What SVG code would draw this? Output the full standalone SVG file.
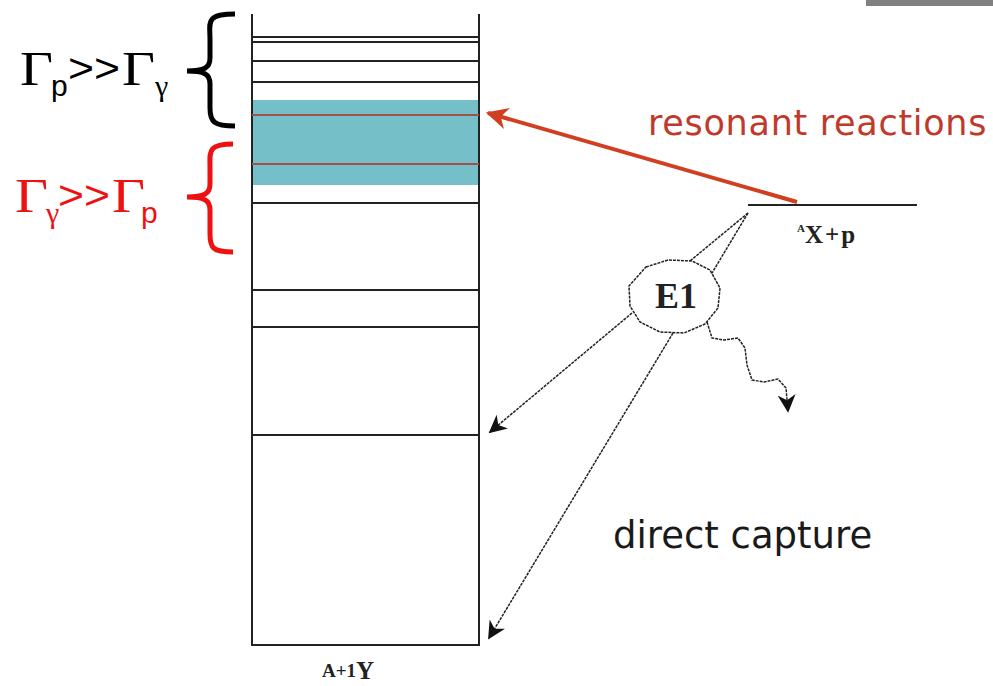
<svg xmlns="http://www.w3.org/2000/svg" width="993" height="686" viewBox="0 0 993 686">
  <style>
    .lvl { stroke: #222; stroke-width: 2; fill: none; }
    .res { stroke: #a0524a; stroke-width: 2; }
    .ink { stroke: #222; stroke-width: 1.5; fill: none; stroke-dasharray: 3 1; }
    .sans { font-family: "Liberation Sans", Arial, sans-serif; }
    .gr { font-family: "Liberation Serif", "Times New Roman", serif; }
    .wide { font-family: "DejaVu Sans", Verdana, sans-serif; }
    .serif { font-family: "Liberation Serif", "Times New Roman", serif; font-weight: bold; fill: #222; }
  </style>
  <defs>
    <marker id="ah" viewBox="0 0 10 10" refX="9" refY="5" markerWidth="18" markerHeight="18" markerUnits="userSpaceOnUse" orient="auto">
      <path d="M0,0 L10,5 L0,10 L3,5 Z" fill="#111"/>
    </marker>
    <marker id="ahr" viewBox="0 0 10 10" refX="9" refY="5" markerWidth="22" markerHeight="22" markerUnits="userSpaceOnUse" orient="auto">
      <path d="M0,0 L10,5 L0,10 L3,5 Z" fill="#d04020"/>
    </marker>
  </defs>

  <rect x="866" y="0" width="127" height="6" fill="#808080"/>

  <!-- level scheme of the compound nucleus -->
  <g id="levels">
    <rect x="252" y="100" width="227" height="85" fill="#75bfc8"/>
    <line class="lvl" x1="252" y1="14" x2="252" y2="646"/>
    <line class="lvl" x1="479" y1="14" x2="479" y2="646"/>
    <line class="lvl" x1="252" y1="645" x2="479" y2="645"/>
    <line class="lvl" x1="252" y1="37" x2="479" y2="37"/>
    <line class="lvl" x1="252" y1="42" x2="479" y2="42"/>
    <line class="lvl" x1="252" y1="61" x2="479" y2="61"/>
    <line class="lvl" x1="252" y1="82" x2="479" y2="82"/>
    <line class="res" x1="252" y1="115" x2="479" y2="115"/>
    <line class="res" x1="252" y1="164" x2="479" y2="164"/>
    <line class="lvl" x1="252" y1="203" x2="479" y2="203"/>
    <line class="lvl" x1="252" y1="290" x2="479" y2="290"/>
    <line class="lvl" x1="252" y1="327" x2="479" y2="327"/>
    <line class="lvl" x1="252" y1="435" x2="479" y2="435"/>
    <text class="serif" x="322" y="677" font-size="19">A+1<tspan font-size="25" dy="2">Y</tspan></text>
  </g>

  <!-- width regimes -->
  <g id="proton-dominated" fill="#000">
    <path d="M235,14 C205,14 210,22 210,40 L210,58 C210,68 204,71 187,71 C204,71 210,74 210,84 L210,108 C210,122 214,126 235,126" fill="none" stroke="#000" stroke-width="5"/>
    <text class="gr" x="20" y="85" font-size="48" textLength="33" lengthAdjust="spacingAndGlyphs">Γ</text>
    <text class="sans" x="51" y="96" font-size="30">p</text>
    <text class="sans" x="68" y="82" font-size="40" textLength="52" lengthAdjust="spacingAndGlyphs">&gt;&gt;</text>
    <text class="gr" x="122" y="85" font-size="48" textLength="33" lengthAdjust="spacingAndGlyphs">Γ</text>
    <text class="gr" x="155" y="96" font-size="30">γ</text>
  </g>
  <g id="gamma-dominated" fill="#ee1111">
    <path d="M233,144 C207,144 210,152 210,168 L210,184 C210,194 204,197 187,197 C204,197 210,200 210,210 L210,234 C210,248 213,252 233,252" fill="none" stroke="#ee1111" stroke-width="5"/>
    <text class="gr" x="15" y="212" font-size="48" textLength="33" lengthAdjust="spacingAndGlyphs">Γ</text>
    <text class="gr" x="46" y="223" font-size="30">γ</text>
    <text class="sans" x="58" y="209" font-size="40" textLength="52" lengthAdjust="spacingAndGlyphs">&gt;&gt;</text>
    <text class="gr" x="112" y="212" font-size="48" textLength="33" lengthAdjust="spacingAndGlyphs">Γ</text>
    <text class="sans" x="141" y="223" font-size="30">p</text>
  </g>

  <!-- entrance channel -->
  <g id="entrance">
    <line class="lvl" x1="748" y1="205" x2="917" y2="205"/>
    <text class="serif" x="797" y="243" font-size="25"><tspan font-size="11" dy="-11">A</tspan><tspan dy="11" letter-spacing="2">X+p</tspan></text>
  </g>

  <g id="e1">
    <path d="M646,267 L668,260 L692,261 L710,270 L720,288 L718,308 L705,324 L684,333 L660,332 L640,322 L630,306 L629,286 Z" fill="#fff" stroke="#222" stroke-width="1.5" stroke-dasharray="3 1"/>
    <text class="serif" x="676" y="308" font-size="36" text-anchor="middle">E1</text>
  </g>

  <text class="wide" x="648" y="135" font-size="35" letter-spacing="0.7" fill="#c0392b">resonant reactions</text>
  <text class="wide" x="613" y="548" font-size="37" fill="#1a1a1a">direct capture</text>

  <!-- transitions -->
  <g id="connectors">
    <line x1="797" y1="202" x2="488" y2="113" stroke="#d04020" stroke-width="4" marker-end="url(#ahr)"/>
    <line class="ink" x1="748" y1="213" x2="690" y2="261"/>
    <line class="ink" x1="748" y1="213" x2="712" y2="273"/>
    <line class="ink" x1="632" y1="313" x2="490" y2="432" marker-end="url(#ah)"/>
    <line class="ink" x1="673" y1="333" x2="489" y2="638" marker-end="url(#ah)"/>
    <path class="ink" d="M707,322 L712,338 L724,340 L738,338 L745,348 L747,365 L752,380 L764,382 L778,379 L786,388 L788,411" marker-end="url(#ah)"/>
  </g>
</svg>
